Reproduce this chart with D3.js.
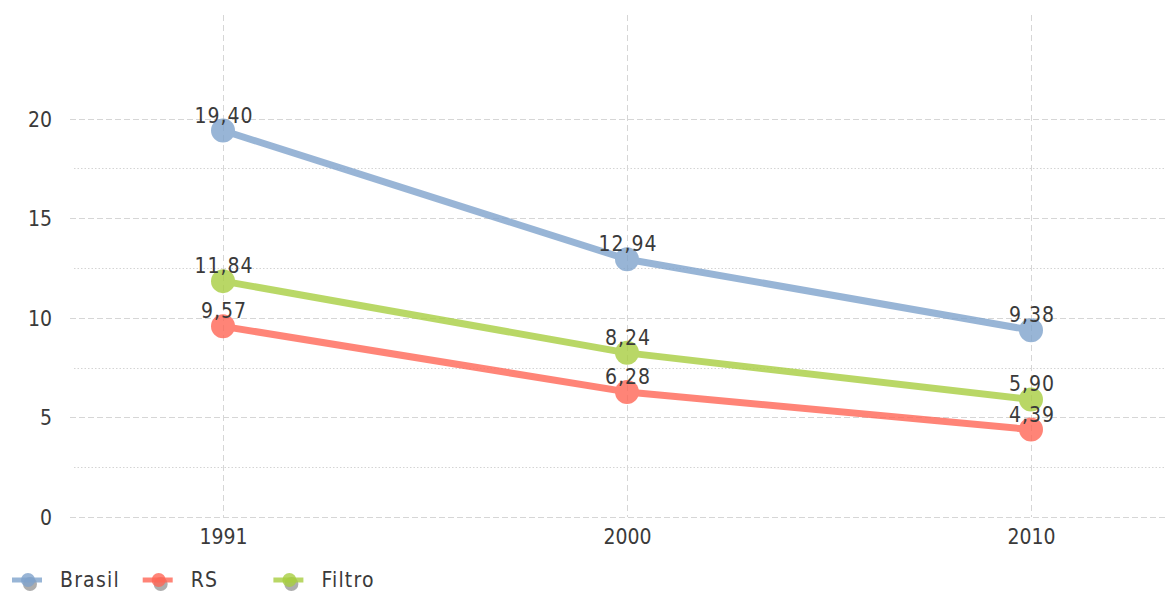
<!DOCTYPE html>
<html>
<head>
<meta charset="utf-8">
<script src="https://cdn.jsdelivr.net/npm/d3@7"></script>
<style>
  body { margin: 0; background: #fff; }
  svg text { font-family: "DejaVu Sans Condensed", "DejaVu Sans", sans-serif; fill: #3a3a3a; }
  .tick text { font-size: 21px; }
  .valueLabel { font-size: 21px; letter-spacing: 1px; }
  .legendText { font-size: 21px; letter-spacing: 1.2px; }
</style>
</head>
<body>
<svg id="chart" width="1165" height="592"></svg>
<script>
const years = ["1991", "2000", "2010"];
const brasil = [19.40, 12.94, 9.38];
const rs = [9.57, 6.28, 4.39];
const filtro = [11.84, 8.24, 5.90];
const seriesNames = ["Brasil", "RS", "Filtro"];
const yTicks = [0, 5, 10, 15, 20];
const yMinor = [2.5, 7.5, 12.5, 17.5];

// base colours, drawn a bit translucent like the original
const colors = ["#7fa3cc", "#ff6656", "#a8ce41"];

const svg = d3.select("#chart");
const plotLeft = 70, plotRight = 1165, plotTop = 15, plotBottom = 517;

const x = d3.scalePoint().domain(years).range([223, 1031]);
const y = d3.scaleLinear().domain([0, 25.2]).range([plotBottom, plotTop]);

const fmt = v => v.toFixed(2).replace(".", ",");

let grid = svg.append("g");
// minor dotted lines
grid.selectAll(".minor")
  .data(yMinor)
  .enter()
  .append("line")
  .attr("x1", plotLeft + 4)
  .attr("x2", plotRight)
  .attr("y1", d => Math.round(y(d)) + 0.5)
  .attr("y2", d => Math.round(y(d)) + 0.5)
  .style("stroke", "#d4d4d4")
  .style("stroke-dasharray", "1.5,2");
// major dashed lines
grid.selectAll(".major")
  .data(yTicks)
  .enter()
  .append("line")
  .attr("x1", plotLeft)
  .attr("x2", plotRight)
  .attr("y1", d => Math.round(y(d)) + 0.5)
  .attr("y2", d => Math.round(y(d)) + 0.5)
  .style("stroke", "#d6d6d6")
  .style("stroke-dasharray", "6,3");
// vertical dashed lines
grid.selectAll(".vert")
  .data(years)
  .enter()
  .append("line")
  .attr("x1", d => x(d) + 0.5)
  .attr("x2", d => x(d) + 0.5)
  .attr("y1", plotTop)
  .attr("y2", plotBottom)
  .style("stroke", "#d6d6d6")
  .style("stroke-dasharray", "6,4");

// axes (labels only)
svg.append("g")
  .attr("transform", "translate(52,0)")
  .call(d3.axisLeft(y).tickValues(yTicks).tickSize(0).tickPadding(0))
  .call(g => g.select(".domain").remove())
  .selectAll("text").attr("dy", "0.36em");

svg.append("g")
  .attr("transform", "translate(0," + (plotBottom + 8) + ")")
  .call(d3.axisBottom(x).tickSize(0).tickPadding(0))
  .call(g => g.select(".domain").remove())
  .selectAll("text").attr("dy", "0.9em");

const allSeries = [brasil, rs, filtro];
const line = d3.line()
  .x((d, i) => x(years[i]))
  .y(d => y(d));

allSeries.forEach((vals, s) => {
  let g = svg.append("g").style("opacity", 0.8);
  g.append("path")
    .attr("d", line(vals))
    .style("fill", "none")
    .style("stroke", colors[s])
    .style("stroke-width", 7)
    .style("stroke-linejoin", "round");
  g.selectAll("circle")
    .data(vals)
    .enter()
    .append("circle")
    .attr("cx", (d, i) => x(years[i]))
    .attr("cy", d => y(d))
    .attr("r", 12)
    .style("fill", colors[s]);
});

// value labels on top
allSeries.forEach((vals, s) => {
  svg.append("g").selectAll("text")
    .data(vals)
    .enter()
    .append("text")
    .attr("class", "valueLabel")
    .attr("x", (d, i) => x(years[i]) + 1)
    .attr("y", d => y(d) - 8)
    .attr("text-anchor", "middle")
    .text(d => fmt(d));
});

// legend
const legendX = d3.scaleLinear().domain([0, 1]).range([12, 142.7]);
let legend = svg.append("g").attr("transform", "translate(0,580)");
seriesNames.forEach((name, s) => {
  let lx = legendX(s);
  let item = legend.append("g").attr("transform", "translate(" + lx + ",0)");
  item.append("circle")
    .attr("cx", 18).attr("cy", 4).attr("r", 7)
    .style("fill", "#8a8a8a").style("opacity", 0.7);
  item.append("line")
    .attr("x1", 0).attr("x2", 30).attr("y1", 0).attr("y2", 0)
    .style("stroke", colors[s]).style("stroke-width", 5).style("opacity", 0.8);
  item.append("circle")
    .attr("cx", 16).attr("cy", 0).attr("r", 7)
    .style("fill", colors[s]).style("opacity", 0.8);
  item.append("text")
    .attr("class", "legendText")
    .attr("x", 48)
    .attr("y", 7)
    .text(name);
});
</script>
</body>
</html>
